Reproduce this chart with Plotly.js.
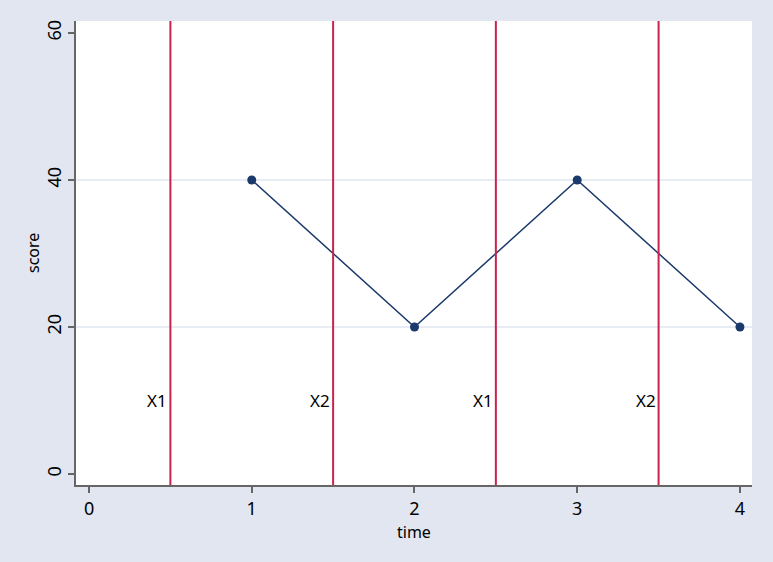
<!DOCTYPE html>
<html><head><meta charset="utf-8">
<script src="https://cdn.plot.ly/plotly-3.0.1.min.js"></script>
<style>html,body{margin:0;padding:0;background:#e1e6f0;}#chart{width:773px;height:562px;}</style>
</head><body><div id="chart"></div>
<script>
var time = [1, 2, 3, 4];
var score = [40, 20, 40, 20];
var lineX = [0.5, 1.5, 2.5, 3.5];
var lineLabels = ["X1", "X2", "X1", "X2"];
var labelY = 10;
var xTicks = [0, 1, 2, 3, 4];
var yTicks = [0, 20, 40, 60];
var gridY = [20, 40];
var xTitle = "time";
var yTitle = "score";

var font = "Noto Sans, DejaVu Sans, sans-serif";
var shapes = gridY.map(function(v){
  return {type:'line', xref:'paper', yref:'y', x0:0, x1:1, y0:v, y1:v, layer:'below',
          line:{color:'#e1e6f0', width:1.5}};
}).concat(lineX.map(function(v){
  return {type:'line', xref:'x', yref:'paper', x0:v, x1:v, y0:0, y1:1,
          line:{color:'#c9224e', width:2}};
}));
var annotations = lineX.map(function(v,i){
  return {x:v, y:labelY, xref:'x', yref:'y', text:lineLabels[i], showarrow:false,
          xanchor:'right', yanchor:'middle', xshift:-1, font:{family:font, size:17, color:'#000'}};
});
annotations.push({xref:'paper', yref:'paper', x:0.5, y:0, yshift:-47, text:xTitle, showarrow:false,
  xanchor:'center', yanchor:'middle', font:{family:font, size:16, color:'#000'}});
annotations.push({xref:'paper', yref:'paper', x:0, y:0.5, xshift:-43, text:yTitle, showarrow:false,
  textangle:-90, xanchor:'center', yanchor:'middle', font:{family:font, size:16, color:'#000'}});

var trace = {x:time, y:score, mode:'lines+markers', type:'scatter',
  line:{color:'#1a3a6b', width:1.5}, marker:{color:'#1a3a6b', size:9}, showlegend:false};

var layout = {
  width:773, height:562,
  paper_bgcolor:'#e1e6f0', plot_bgcolor:'#ffffff',
  margin:{l:76, r:21, t:21, b:77},
  font:{family:font, size:17, color:'#000'},
  showlegend:false,
  xaxis:{range:[-0.08, 4.074], tickvals:xTicks, ticktext:xTicks.map(String),
    showgrid:false, zeroline:false, showline:true, linecolor:'#666', linewidth:2,
    ticks:'outside', ticklen:6, tickwidth:2, tickcolor:'#666', tickfont:{size:18}},
  yaxis:{range:[-1.5, 61.63], tickvals:yTicks, ticktext:yTicks.map(String), tickangle:-90,
    showgrid:false, zeroline:false,
    showline:true, linecolor:'#666', linewidth:2,
    ticks:'outside', ticklen:6, tickwidth:2, tickcolor:'#666', tickfont:{size:18}},
  shapes:shapes, annotations:annotations
};
Plotly.newPlot('chart', [trace], layout, {displayModeBar:false});
</script></body></html>
